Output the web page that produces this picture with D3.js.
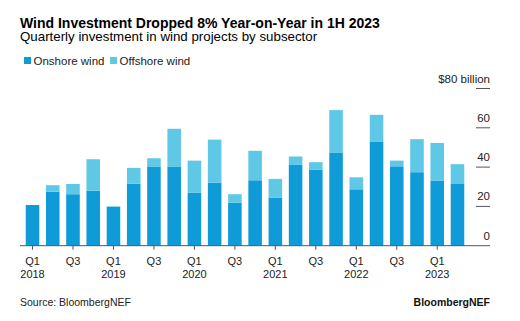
<!DOCTYPE html>
<html>
<head>
<meta charset="utf-8">
<script src="https://cdn.jsdelivr.net/npm/d3@7"></script>
<style>
  body { margin: 0; background: #fff; }
  svg { font-family: "Liberation Sans", Arial, sans-serif; }
</style>
</head>
<body>
<div id="chart-area"></div>
<script>
// dados (bilhões de US$)
const quarters = ["Q1 2018","Q2 2018","Q3 2018","Q4 2018","Q1 2019","Q2 2019","Q3 2019","Q4 2019",
  "Q1 2020","Q2 2020","Q3 2020","Q4 2020","Q1 2021","Q2 2021","Q3 2021","Q4 2021",
  "Q1 2022","Q2 2022","Q3 2022","Q4 2022","Q1 2023","Q2 2023"]
const onshore = [20.7, 27.5, 26.2, 28.0, 19.9, 31.6, 40.1, 40.1, 26.9, 32.1, 21.9, 33.3,
  24.5, 41.1, 38.6, 47.2, 28.7, 52.8, 40.4, 37.4, 33.0, 31.4]
const offshore = [0, 3.3, 5.2, 16.0, 0, 8.0, 4.4, 19.4, 16.4, 21.9, 4.3, 15.0,
  9.5, 4.3, 3.9, 21.8, 6.1, 13.8, 2.9, 16.8, 19.3, 10.1]
const yTicks = [0, 20, 40, 60, 80]
const seriesNames = ["Onshore wind", "Offshore wind"]
const colors = ["#0e9bd8", "#5ec8e6"]

const W = 520, H = 321
const svg = d3.select("#chart-area").append("svg")
  .attr("width", W)
  .attr("height", H)

// título e subtítulo
svg.append("text")
  .attr("x", 20).attr("y", 27.5)
  .attr("font-size", "14px")
  .attr("font-weight", "bold")
  .attr("fill", "#000")
  .text("Wind Investment Dropped 8% Year-on-Year in 1H 2023")

svg.append("text")
  .attr("x", 20).attr("y", 41)
  .attr("font-size", "13.3px")
  .attr("fill", "#000")
  .text("Quarterly investment in wind projects by subsector")

// legenda
const legendX = [24, 110]
seriesNames.forEach((name, i) => {
  svg.append("rect")
    .attr("x", legendX[i]).attr("y", 57)
    .attr("width", 7).attr("height", 7)
    .attr("fill", colors[i])
  svg.append("text")
    .attr("x", legendX[i] + 9.5).attr("y", 65)
    .attr("font-size", "11.5px")
    .attr("fill", "#222")
    .text(name)
})

// escalas
const x = d3.scaleBand()
  .domain(quarters)
  .range([22.4, 467.6])
  .paddingInner(0.33)
  .paddingOuter(0.165)

const y = d3.scaleLinear()
  .domain([0, 80])
  .range([245.7, 88.5])

// empilhamento
const data = quarters.map((q, i) => ({ q: q, onshore: onshore[i], offshore: offshore[i] }))
const stack = d3.stack().keys(["onshore", "offshore"])(data)

svg.append("g").selectAll("g")
  .data(stack)
  .enter().append("g")
    .attr("fill", (d, i) => colors[i])
  .selectAll("rect")
  .data(d => d)
  .enter().append("rect")
    .attr("x", d => x(d.data.q))
    .attr("y", d => y(d[1]))
    .attr("width", x.bandwidth())
    .attr("height", d => y(d[0]) - y(d[1]))

// eixo y à direita: traço curto + rótulo acima
const yg = svg.append("g")
yg.selectAll("line")
  .data(yTicks.filter(d => d > 0))
  .enter().append("line")
    .attr("x1", 476).attr("x2", 490)
    .attr("y1", d => y(d)).attr("y2", d => y(d))
    .attr("stroke", "#555").attr("stroke-width", 1)
yg.selectAll("text")
  .data(yTicks)
  .enter().append("text")
    .attr("x", 490)
    .attr("y", d => y(d) - 6)
    .attr("text-anchor", "end")
    .attr("font-size", "11.5px")
    .attr("fill", "#222")
    .text(d => d === 80 ? "$80 billion" : d)

// eixo x
const tickQs = quarters.filter((q, i) => i % 2 === 0)
const xAxis = d3.axisBottom(x)
  .tickValues(tickQs)
  .tickSize(4)
  .tickFormat("")
const xg = svg.append("g")
  .attr("transform", `translate(0, ${y(0)})`)
  .call(xAxis)
xg.select(".domain").remove()
xg.selectAll(".tick line").attr("stroke", "#555")
xg.append("line")
  .attr("x1", 20).attr("x2", 490)
  .attr("stroke", "#555").attr("stroke-width", 1)

const labels = svg.append("g")
tickQs.forEach(q => {
  const cx = x(q) + x.bandwidth() / 2
  const parts = q.split(" ")
  labels.append("text")
    .attr("x", cx).attr("y", 264.5)
    .attr("text-anchor", "middle")
    .attr("font-size", "11px")
    .attr("fill", "#222")
    .text(parts[0])
  if (parts[0] === "Q1") {
    labels.append("text")
      .attr("x", cx).attr("y", 278)
      .attr("text-anchor", "middle")
      .attr("font-size", "11px")
      .attr("fill", "#222")
      .text(parts[1])
  }
})

// rodapé
svg.append("text")
  .attr("x", 20).attr("y", 305.5)
  .attr("font-size", "10.5px")
  .attr("fill", "#222")
  .text("Source: BloombergNEF")

svg.append("text")
  .attr("x", 490).attr("y", 305.5)
  .attr("text-anchor", "end")
  .attr("font-size", "10.5px")
  .attr("font-weight", "bold")
  .attr("fill", "#111")
  .text("BloombergNEF")
</script>
</body>
</html>
